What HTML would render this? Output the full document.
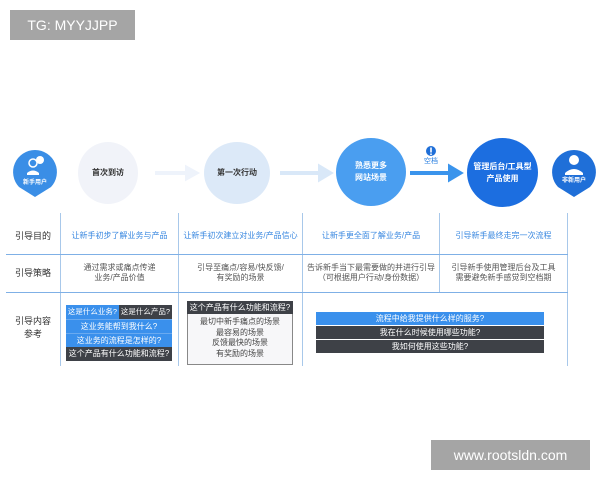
<!DOCTYPE html>
<html><head><meta charset="utf-8"><style>
body{margin:0;width:600px;height:480px;background:#fff;position:relative;overflow:hidden;font-family:"Liberation Sans","Noto Sans CJK SC",sans-serif}
.a{position:absolute}
.c{position:absolute;border-radius:50%;display:flex;align-items:center;justify-content:center;text-align:center;font-size:8px;line-height:12px;font-weight:bold}
.t{position:absolute;font-size:8px;text-align:center;line-height:10px}
.vl{position:absolute;top:213px;height:153px;width:1px;background:#a8c8ea}
.hl{position:absolute;left:6px;width:562px;height:1px;background:#7fb0e6}
.b{position:absolute;font-size:8px;color:#fff;text-align:center;line-height:14px;height:14px;white-space:nowrap;overflow:hidden}
.bl{background:#3a90ec}.dk{background:#3e4147}
</style></head><body>
<div class="a" style="left:10px;top:10px;width:125px;height:30px;background:#a5a5a5;color:#fff;font-size:14px;line-height:30px;text-align:center">TG: MYYJJPP</div>
<div class="a" style="left:431px;top:440px;width:159px;height:30px;background:#a5a5a5;color:#fff;font-size:14px;line-height:30px;text-align:center">www.rootsldn.com</div>

<svg class="a" style="left:0;top:140px" width="600" height="70">
<path d="M35 10 a22 22 0 0 1 16 37 L35 57 L19 47 a22 22 0 0 1 16 -37z" fill="#3a8ee6"/>
<circle cx="33" cy="23" r="4" fill="none" stroke="#fff" stroke-width="1.5"/><circle cx="40" cy="20" r="4" fill="#fff"/>
<path d="M27 33 q6 -5 12 0 v2 h-12z" fill="#fff"/>
<path d="M574 10 a22 22 0 0 1 16 37 L574 57 L558 47 a22 22 0 0 1 16 -37z" fill="#1f6fd8"/>
<circle cx="574" cy="20" r="5" fill="#fff"/><path d="M565 33 q9 -8 18 0 v2 h-18z" fill="#fff"/>
<path d="M155 33 h32 v-5 l9 5 l-9 5 v-5" fill="#eef3fb" stroke="#eef3fb" stroke-width="4"/>
<path d="M280 33 h40 v-6 l10 6 l-10 6 v-6" fill="#d9e8f8" stroke="#d9e8f8" stroke-width="4"/>
<path d="M410 33 h40 v-6 l10 6 l-10 6 v-6" fill="#3a94ec" stroke="#3a94ec" stroke-width="4"/>
<circle cx="431" cy="11" r="5" fill="#1f6fd8"/><rect x="430.2" y="7.5" width="1.6" height="5" fill="#fff"/><rect x="430.2" y="13.5" width="1.6" height="1.5" fill="#fff"/>
</svg>
<div class="t" style="left:16px;top:178px;width:38px;color:#fff;font-size:6px;font-weight:bold">新手用户</div>
<div class="t" style="left:555px;top:176px;width:38px;color:#fff;font-size:6px;font-weight:bold">非新用户</div>
<div class="t" style="left:416px;top:157px;width:30px;color:#2a7fe0;font-size:7px">空档</div>
<div class="c" style="left:78px;top:142px;width:60px;height:62px;background:#f1f3f9;color:#333">首次到访</div>
<div class="c" style="left:204px;top:142px;width:66px;height:62px;background:#dce9f8;color:#333">第一次行动</div>
<div class="c" style="left:336px;top:138px;width:70px;height:68px;background:#4a9ef0;color:#fff">熟悉更多<br>网站场景</div>
<div class="c" style="left:467px;top:138px;width:71px;height:69px;background:#1c6ee0;color:#fff">管理后台/工具型<br>产品使用</div>

<div class="vl" style="left:60px"></div><div class="vl" style="left:178px"></div><div class="vl" style="left:302px"></div><div class="vl" style="left:439px;height:79px"></div><div class="vl" style="left:567px"></div>
<div class="hl" style="top:254px"></div><div class="hl" style="top:292px"></div>

<div class="t" style="left:6px;top:231px;width:54px;font-size:9px;color:#333">引导目的</div>
<div class="t" style="left:6px;top:268px;width:54px;font-size:9px;color:#333">引导策略</div>
<div class="t" style="left:6px;top:315px;width:54px;font-size:9px;color:#333;line-height:13px">引导内容<br>参考</div>

<div class="t" style="left:61px;top:231px;width:117px;color:#3a88e0">让新手初步了解业务与产品</div>
<div class="t" style="left:179px;top:231px;width:123px;color:#3a88e0">让新手初次建立对业务/产品信心</div>
<div class="t" style="left:303px;top:231px;width:136px;color:#3a88e0">让新手更全面了解业务/产品</div>
<div class="t" style="left:440px;top:231px;width:127px;color:#3a88e0">引导新手最终走完一次流程</div>

<div class="t" style="left:61px;top:263px;width:117px;color:#555">通过需求或痛点传递<br>业务/产品价值</div>
<div class="t" style="left:179px;top:263px;width:123px;color:#555">引导至痛点/容易/快反馈/<br>有奖励的场景</div>
<div class="t" style="left:303px;top:263px;width:136px;color:#555">告诉新手当下最需要做的并进行引导<br>（可根据用户行动/身份数据）</div>
<div class="t" style="left:440px;top:263px;width:127px;color:#555">引导新手使用管理后台及工具<br>需要避免新手感觉到空档期</div>

<div class="b bl" style="left:66px;top:305px;width:53px;font-size:7.5px">这是什么业务?</div>
<div class="b dk" style="left:119px;top:305px;width:53px;font-size:7.5px">这是什么产品?</div>
<div class="b bl" style="left:66px;top:319px;width:106px;border-top:1px solid #6aaaf0;height:13px">这业务能帮到我什么?</div>
<div class="b bl" style="left:66px;top:333px;width:106px;border-top:1px solid #6aaaf0;height:13px">这业务的流程是怎样的?</div>
<div class="b dk" style="left:66px;top:347px;width:106px">这个产品有什么功能和流程?</div>

<div class="a" style="left:187px;top:301px;width:104px;height:62px;border:1px solid #888;background:#f7f7f9"></div>
<div class="b dk" style="left:187px;top:301px;width:106px;height:13px;line-height:13px">这个产品有什么功能和流程?</div>
<div class="t" style="left:187px;top:317px;width:106px;color:#444;line-height:10.5px">最切中新手痛点的场景<br>最容易的场景<br>反馈最快的场景<br>有奖励的场景</div>

<div class="b bl" style="left:316px;top:312px;width:228px;height:13px;line-height:13px">流程中给我提供什么样的服务?</div>
<div class="b dk" style="left:316px;top:326px;width:228px;height:13px;line-height:13px">我在什么时候使用哪些功能?</div>
<div class="b dk" style="left:316px;top:340px;width:228px;height:13px;line-height:13px">我如何使用这些功能?</div>
</body></html>
